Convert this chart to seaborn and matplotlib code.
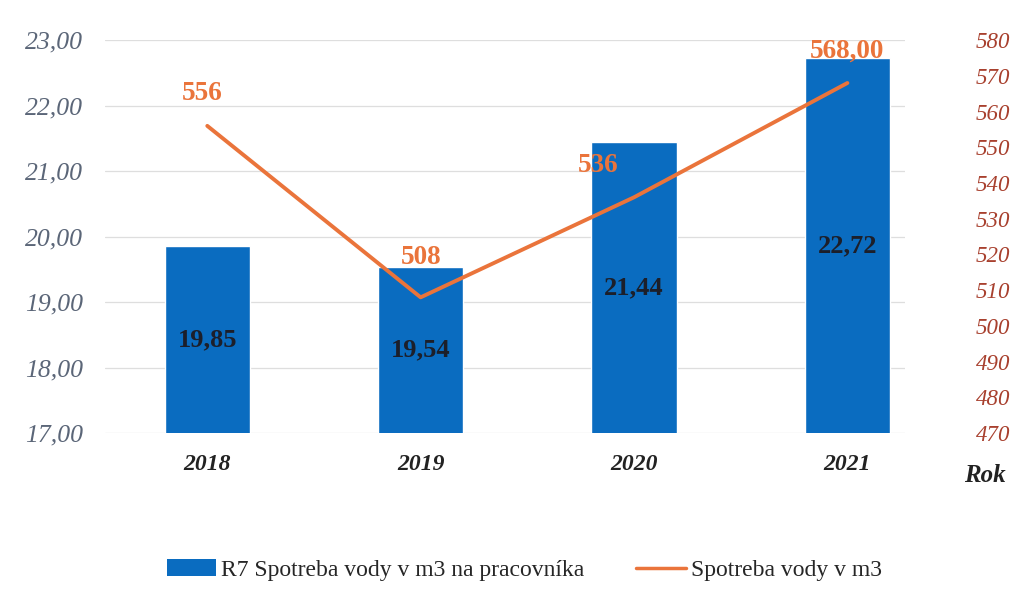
import matplotlib
matplotlib.use("Agg")
import matplotlib.pyplot as plt
import seaborn as sns
import numpy as np
import pandas as pd
from matplotlib.patches import Patch
from matplotlib.lines import Line2D

years = ["2018", "2019", "2020", "2021"]
per_worker = [19.85, 19.54, 21.44, 22.72]
total_m3 = [556, 508, 536, 568]
line_labels = ["556", "508", "536", "568,00"]
left_ticks = [17, 18, 19, 20, 21, 22, 23]
right_ticks = [470, 480, 490, 500, 510, 520, 530, 540, 550, 560, 570, 580]
bar_name = "R7 Spotreba vody v m3 na pracovníka"
line_name = "Spotreba vody v m3"

sns.set_theme(style="white")
plt.rcParams["font.family"] = ["Liberation Serif", "DejaVu Serif"]

BLUE = "#0a6cc0"
ORANGE = "#ea743b"

fig = plt.figure(figsize=(10.18, 5.99), dpi=100)
ax = fig.add_axes([0.103, 0.277, 0.786, 0.656])

df = pd.DataFrame({"year": years, "pw": per_worker, "pos": np.arange(len(years)), "tot": total_m3})
sns.barplot(data=df, x="year", y="pw", color=BLUE, width=0.4, saturation=1, ax=ax, zorder=2)
ax.set_ylim(left_ticks[0], left_ticks[-1])
ax.set_yticks(left_ticks)
ax.set_yticklabels([f"{v:.2f}".replace(".", ",") for v in left_ticks],
                   fontsize=18.5, style="italic", color="#5b6678")
ax.yaxis.grid(True, color="#dedede", linewidth=0.9, zorder=0)
ax.set_axisbelow(True)
ax.set_xlim(-0.48, 3.27)
ax.set_xlabel("")
ax.set_ylabel("")
ax.set_xticks(range(len(years)))
ax.set_xticklabels(years, fontsize=17, style="italic", weight="bold", color="#222222")
ax.tick_params(axis="x", length=0, pad=15)
ax.tick_params(axis="y", length=0, pad=16)
for s in ax.spines.values():
    s.set_visible(False)

for i, v in enumerate(per_worker):
    ax.text(i, (left_ticks[0] + v) / 2, f"{v:.2f}".replace(".", ","), ha="center", va="center",
            fontsize=19, weight="bold", color="#1c1f2a", zorder=5)

ax2 = ax.twinx()
sns.lineplot(data=df, x="pos", y="tot", color=ORANGE, linewidth=2.8, ax=ax2, zorder=4)
ax2.set_ylim(right_ticks[0], right_ticks[-1])
ax2.set_yticks(right_ticks)
ax2.set_yticklabels([str(v) for v in right_ticks], fontsize=16.5, style="italic", color="#a8402e")
ax2.tick_params(axis="y", length=0, pad=51)
ax2.set_xlabel("")
ax2.set_ylabel("")
for s in ax2.spines.values():
    s.set_visible(False)

offsets = [(-4, 23), (0, 29), (-26, 23), (0, 23)]
for i, (v, lab) in enumerate(zip(total_m3, line_labels)):
    ax2.annotate(lab, (i, v), xytext=offsets[i], textcoords="offset points", ha="center", va="center",
                 fontsize=19.5, weight="bold", color=ORANGE, zorder=6)

fig.text(0.967, 0.207, "Rok", fontsize=18, style="italic", weight="bold", ha="center", va="center", color="#222222")

handles = [Patch(facecolor=BLUE, edgecolor="none"),
           Line2D([0], [0], color=ORANGE, linewidth=2.5)]
fig.legend(handles, [bar_name, line_name], loc="center", bbox_to_anchor=(0.515, 0.048), ncol=2,
           frameon=False, fontsize=17, handlelength=2.1, handletextpad=0.2, columnspacing=2.2,
           handleheight=0.7)

fig.savefig("out.png", dpi=100)
